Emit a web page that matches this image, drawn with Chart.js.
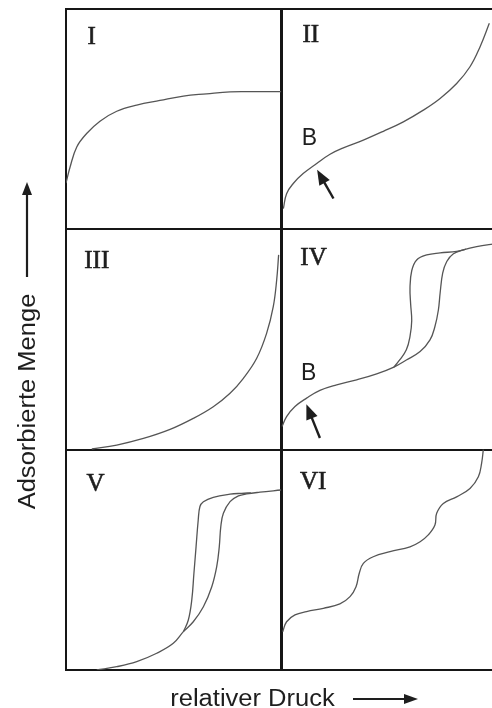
<!DOCTYPE html>
<html><head><meta charset="utf-8">
<script src="https://cdn.jsdelivr.net/npm/chart.js@4.4.1/dist/chart.umd.min.js"></script>
<style>
html,body{margin:0;padding:0;overflow:hidden;background:#fff;width:492px;height:708px}
#wrap{position:absolute;left:0;top:0;width:500px;height:708px}
canvas{display:block}
</style></head><body>
<div id="wrap"><canvas id="c" width="500" height="708"></canvas></div>
<script>
// Panels (isotherm types), grid column / row of each panel
const panelNames = ['I', 'II', 'III', 'IV', 'V', 'VI'];
const panelCols  = [0, 1, 0, 1, 0, 1];
const panelRows  = [0, 0, 1, 1, 2, 2];

// Axis titles and point label
const yTitle = 'Adsorbierte Menge';
const xTitle = 'relativer Druck';
const pointLabel = 'B';

// Curves in panel-local units: x = relative pressure (0-100), y = adsorbed amount (0-100)
const typeI = [[0,21],[1.9,28.3],[5,37.4],[9.6,43.5],[15.8,49.1],[23.6,53.6],[32.9,56.4],[43.7,58.5],[54.6,60.5],[65.4,61.5],[76.3,62.4],[85.6,62.5],[100,62.5]];
const typeII = [[1.1,9.4],[2.6,16.2],[5.7,20.8],[10.3,25.3],[16.6,29.9],[22.8,34.1],[29,37],[38.3,40.5],[47.6,44.5],[56.9,48.8],[66.2,54.1],[74,59.4],[81.7,66.2],[87.9,73.8],[92.6,82.9],[96.9,93.5]];
const typeIII = [[12,0.3],[23.6,2.1],[36,5.1],[48.4,9.2],[59.2,14.2],[68.5,19.5],[76.3,25.6],[82.5,32.4],[88.7,41.5],[93.3,52.8],[96.4,64.9],[98,77.1],[98.9,88.4]];
const typeIVads = [[0.5,10.5],[2.6,15],[6.5,19.6],[11.9,23.4],[18.1,26.9],[25.9,29.4],[35.2,31.7],[44.5,34.4],[52.5,37.5],[58.3,40.7],[64.7,44.5],[69.3,49.8],[71.6,55.9],[73.2,63.4],[74,71],[75.2,80.1],[77.1,85.4],[80.2,88.9],[84.8,90.7],[91,92.2],[100,93.5]];
const typeIVdes = [[52.5,37.5],[55.2,40.7],[58.3,45.3],[60,51.4],[60.8,58.5],[60.3,66.1],[60,73.6],[60.8,81.2],[63.1,86.1],[67.8,88.4],[74,89.3],[81.7,90],[86,91]];
const typeVads = [[14.3,0],[23.6,1.5],[32.9,3.8],[42.2,7.6],[49.9,12.1],[54.6,17.4],[59.2,21.9],[63.9,28.7],[67.8,37.8],[70.1,46.9],[71.3,56],[72,65.1],[73.2,71.1],[76.3,76.4],[80.2,79],[84,79.9],[90.2,80.7],[100,81.7]];
const typeVdes = [[54.6,17.4],[56.9,22.7],[58.5,31.8],[59.5,43.9],[60.5,56],[61.5,68.1],[62.3,74.2],[63.9,76.4],[68.5,78.4],[76.3,79.8],[81.7,80.2],[86,80.4]];
const typeVI = [[0.8,17.4],[2.6,21.9],[6.5,25],[11.9,26.5],[19.7,28],[27.4,30],[32.1,33.3],[34.9,37.8],[36.4,43.9],[38.3,48.4],[42.9,51.4],[50.7,53.7],[60,55.9],[64.7,58.2],[68.5,61.3],[71.6,65.8],[72.4,71.1],[75.5,75.6],[81.7,78.6],[87.9,82.4],[91.8,87.7],[93.3,93.8],[94.1,100]];

const curves = [
  {pts: typeI, panel: 0}, {pts: typeII, panel: 1}, {pts: typeIII, panel: 2},
  {pts: typeIVads, panel: 3}, {pts: typeIVdes, panel: 3},
  {pts: typeVads, panel: 4}, {pts: typeVdes, panel: 4}, {pts: typeVI, panel: 5}
];

function gx(panel, x) { return panelCols[panel] * 100 + x; }
function gy(panel, y) { return (2 - panelRows[panel]) * 100 + y; }

const CURVE = '#555';
const FRAME = '#161616';
const INK = '#1e1e1e';

const datasets = curves.map(c => ({
  data: c.pts.map(([x, y]) => ({x: gx(c.panel, x), y: gy(c.panel, y)})),
  showLine: true, borderColor: CURVE, borderWidth: 1.3, pointRadius: 0,
  tension: 0.4, fill: false
}));

function drawArrow(ctx, x1, y1, x2, y2, head, half, lw) {
  const a = Math.atan2(y2 - y1, x2 - x1);
  const bx = x2 - head * Math.cos(a), by = y2 - head * Math.sin(a);
  ctx.save();
  ctx.strokeStyle = INK; ctx.fillStyle = INK; ctx.lineWidth = lw;
  ctx.beginPath(); ctx.moveTo(x1, y1); ctx.lineTo(bx + 2 * Math.cos(a), by + 2 * Math.sin(a)); ctx.stroke();
  ctx.beginPath();
  ctx.moveTo(x2, y2);
  ctx.lineTo(bx + half * Math.sin(a), by - half * Math.cos(a));
  ctx.lineTo(bx - half * Math.sin(a), by + half * Math.cos(a));
  ctx.closePath(); ctx.fill();
  ctx.restore();
}

function stretchText(ctx, text, x, y, rot, sx, font, align) {
  ctx.save();
  ctx.translate(x, y); ctx.rotate(rot); ctx.scale(sx, 1);
  ctx.font = font; ctx.fillStyle = INK; ctx.textAlign = align; ctx.textBaseline = 'alphabetic';
  ctx.fillText(text, 0, 0);
  ctx.restore();
}

// label anchor positions in panel-local units
const nameAnchor = [[10, 87], [10, 88], [8.5, 85.5], [9, 87], [9.5, 84], [8.8, 85]];
const bAnchor = {1: [9.6, 41.3], 3: [9.3, 34.5]};
const bArrow = {1: [[24.4, 14], [16.8, 27]], 3: [[18.1, 5.3], [11.8, 20.6]]};

const decor = {
  id: 'decor',
  afterDatasetsDraw(chart) {
    const ctx = chart.ctx, xs = chart.scales.x, ys = chart.scales.y;
    const P = (p, x, y) => [xs.getPixelForValue(gx(p, x)), ys.getPixelForValue(gy(p, y))];
    ctx.save();
    panelNames.forEach((n, p) => {
      const [px, py] = P(p, nameAnchor[p][0], nameAnchor[p][1]);
      ctx.font = '25px "Liberation Serif", "Times New Roman", serif';
      ctx.fillStyle = INK; ctx.strokeStyle = INK; ctx.lineWidth = 0.6;
      ctx.textAlign = 'left'; ctx.textBaseline = 'middle';
      ctx.fillText(n, px, py);
      ctx.strokeText(n, px, py);
    });
    Object.keys(bAnchor).forEach(k => {
      const p = +k;
      const [px, py] = P(p, bAnchor[p][0], bAnchor[p][1]);
      ctx.font = '23px "Liberation Sans", Arial, sans-serif';
      ctx.fillStyle = INK; ctx.textAlign = 'left'; ctx.textBaseline = 'middle';
      ctx.fillText(pointLabel, px, py);
      const [t, h] = bArrow[p];
      const [x1, y1] = P(p, t[0], t[1]);
      const [x2, y2] = P(p, h[0], h[1]);
      drawArrow(ctx, x1, y1, x2, y2, 15, 6, 2.4);
    });
    // axis titles with arrows
    const font = '23px "Liberation Sans", Arial, sans-serif';
    stretchText(ctx, yTitle, 35, 401.5, -Math.PI / 2, 1.11, font, 'center');
    drawArrow(ctx, 27, 277, 27, 182, 13, 5, 2.2);
    stretchText(ctx, xTitle, 252.5, 705.5, 0, 1.11, font, 'center');
    drawArrow(ctx, 353, 699, 418, 699, 14, 5, 2.2);
    ctx.restore();
  }
};

new Chart(document.getElementById('c'), {
  type: 'scatter',
  data: {datasets},
  options: {
    responsive: false, animation: false, devicePixelRatio: 1,
    layout: {padding: {left: 66, right: 4, top: 9, bottom: 38}},
    plugins: {legend: {display: false}, tooltip: {enabled: false}},
    scales: {
      x: {
        type: 'linear', min: 0, max: 200,
        ticks: {display: false, stepSize: 100, padding: 0},
        grid: {drawTicks: false, color: FRAME, lineWidth: c => (c.tick && c.tick.value === 100 ? 3 : 2)},
        border: {display: true, color: FRAME, width: 2}
      },
      y: {
        type: 'linear', min: 0, max: 300,
        ticks: {display: false, stepSize: 100, padding: 0},
        grid: {drawTicks: false, color: FRAME, lineWidth: 2},
        border: {display: true, color: FRAME, width: 2}
      }
    }
  },
  plugins: [decor]
});
</script>
</body></html>
